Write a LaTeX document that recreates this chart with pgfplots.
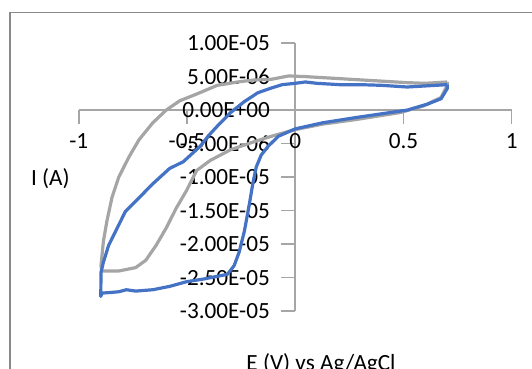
\documentclass[border=0pt]{standalone}
\usepackage{pgfplots}
\pgfplotsset{compat=1.18}
\usepackage{fontspec}
\setmainfont{Carlito}
\definecolor{cvblue}{HTML}{4472C4}
\definecolor{cvgray}{HTML}{A5A5A5}
\definecolor{axgray}{HTML}{A6A6A6}
\definecolor{framegray}{HTML}{898989}
\begin{document}
\begin{tikzpicture}
\useasboundingbox (0,0) rectangle (266pt,184.5pt);
\draw[framegray, line width=0.6pt] (5pt,-20pt) -- (5pt,178.35pt) -- (290pt,178.35pt);
\begin{axis}[
  at={(39.35pt,28.9pt)}, anchor=south west,
  scale only axis, width=216.5pt, height=134.05pt,
  axis lines=middle,
  hide obscured x ticks=false, hide obscured y ticks=false,
  axis line style={axgray, line width=0.8pt, -},
  xmin=-1, xmax=1, ymin=-3e-5, ymax=1e-5,
  xtick={-1,-0.5,0,0.5,1},
  xticklabels={-1,-0.5,0,0.5,1},
  ytick={-3e-5,-2.5e-5,-2e-5,-1.5e-5,-1e-5,-5e-6,0,5e-6,1e-5},
  yticklabels={-3.00E-05,-2.50E-05,-2.00E-05,-1.50E-05,-1.00E-05,-5.00E-06,0.00E+00,5.00E-06,1.00E-05},
  scaled y ticks=false,
  tick style={axgray, line width=0.8pt},
  major tick length=7pt,
  xtick align=outside, ytick align=outside,
  tick label style={font=\fontsize{11.6}{13}\selectfont, text=black},
  xticklabel style={anchor=center, inner sep=0pt, yshift=-8.5pt},
  yticklabel style={anchor=east, inner sep=0pt, xshift=-5.5pt},
  clip=false,
]
\addplot[cvgray, line width=1.6pt, line join=round] coordinates {
(0.702,4.2e-6) (0.60,4.0e-6) (0.517,4.1e-6) (0.36,4.4e-6) (0.204,4.7e-6)
(0.047,5.0e-6) (-0.031,5.1e-6) (-0.11,4.6e-6) (-0.19,4.5e-6) (-0.266,4.2e-6)
(-0.36,3.7e-6) (-0.455,2.4e-6) (-0.533,1.4e-6) (-0.596,0) (-0.658,-1.9e-6)
(-0.721,-4.4e-6) (-0.768,-7.0e-6) (-0.815,-10e-6) (-0.846,-13e-6) (-0.87,-16.6e-6)
(-0.886,-19.6e-6) (-0.897,-23.2e-6) (-0.893,-24.0e-6) (-0.815,-24.0e-6) (-0.737,-23.5e-6)
(-0.69,-22.4e-6) (-0.643,-20.2e-6) (-0.596,-17.6e-6) (-0.549,-14.6e-6) (-0.502,-12e-6)
(-0.455,-9.0e-6) (-0.392,-7.5e-6) (-0.298,-5.9e-6) (-0.188,-4.7e-6) (-0.11,-3.9e-6)
(0.0,-2.9e-6) (0.125,-2.1e-6) (0.282,-1.4e-6) (0.486,-0.36e-6) (0.596,0.66e-6)
(0.674,1.9e-6) (0.702,3.7e-6) (0.702,4.2e-6)
};
\addplot[cvblue, line width=1.6pt, line join=round] coordinates {
(0.702,3.8e-6) (0.65,3.7e-6) (0.517,3.45e-6) (0.40,3.7e-6) (0.30,3.8e-6)
(0.204,3.8e-6) (0.10,4.0e-6) (0.047,4.2e-6) (0.0,4.0e-6) (-0.06,3.8e-6)
(-0.11,3.3e-6) (-0.172,2.6e-6) (-0.235,1.27e-6) (-0.298,-0.36e-6) (-0.36,-2.4e-6)
(-0.40,-3.8e-6) (-0.439,-5.4e-6) (-0.517,-7.7e-6) (-0.58,-8.7e-6) (-0.658,-11e-6)
(-0.737,-13.6e-6) (-0.784,-15.1e-6) (-0.83,-18.1e-6) (-0.862,-20.2e-6) (-0.886,-22.7e-6)
(-0.897,-24.2e-6) (-0.898,-27.8e-6) (-0.893,-27.3e-6) (-0.85,-27.2e-6) (-0.815,-27.1e-6)
(-0.78,-26.8e-6) (-0.737,-27.0e-6) (-0.658,-26.8e-6) (-0.58,-26.3e-6) (-0.502,-25.6e-6)
(-0.423,-25.2e-6) (-0.345,-24.7e-6) (-0.313,-24.5e-6) (-0.282,-23.2e-6) (-0.259,-21.2e-6)
(-0.235,-18.1e-6) (-0.212,-14.1e-6) (-0.196,-11e-6) (-0.18,-8.5e-6) (-0.157,-6.7e-6)
(-0.125,-5.4e-6) (-0.078,-3.9e-6) (0.0,-2.8e-6) (0.125,-1.9e-6) (0.282,-1.1e-6)
(0.439,-0.36e-6) (0.517,0.0) (0.611,0.9e-6) (0.674,1.7e-6) (0.702,3.2e-6) (0.702,3.8e-6)
};
\end{axis}
\node[anchor=center, font=\fontsize{11.6}{13}\selectfont] at (25.2pt,95.25pt) {I (A)};
\node[anchor=base, font=\fontsize{11.6}{13}\selectfont] at (160.5pt,-0.85pt) {E (V) vs Ag/AgCl};
\end{tikzpicture}
\end{document}
